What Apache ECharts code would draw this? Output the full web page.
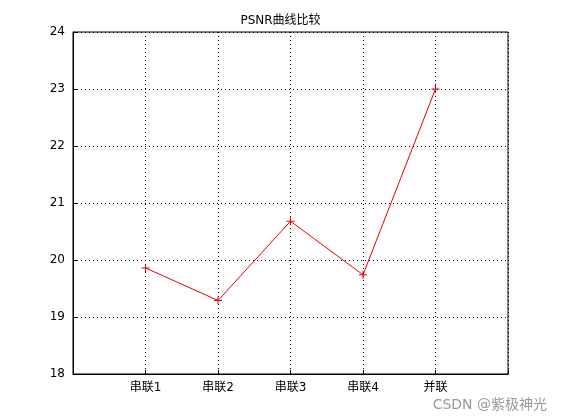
<!DOCTYPE html>
<html>
<head>
<meta charset="utf-8">
<script src="https://cdn.jsdelivr.net/npm/echarts@6/dist/echarts.min.js"></script>
<style>html,body{margin:0;background:#fff}#main{width:561px;height:420px}</style>
</head>
<body>
<div id="main"></div>
<script>
const categories = ['串联1', '串联2', '串联3', '串联4', '并联'];
const psnr = [19.86, 19.29, 20.68, 19.74, 23.0];
const yTicks = [18, 19, 20, 21, 22, 23, 24];

let chart = echarts.init(document.getElementById('main'));
let font = 'DejaVu Sans, Noto Sans CJK SC';
let option = {
  animation: false,
  title: {
    text: 'PSNR曲线比较', left: 'center', top: 10,
    textStyle: { fontSize: 12, fontWeight: 'normal', color: '#000', fontFamily: font }
  },
  grid: { left: 73, right: 53, top: 32, bottom: 46, show: true, borderColor: '#000', borderWidth: 1 },
  xAxis: {
    type: 'value', min: 0, max: 6, interval: 1,
    axisLine: { lineStyle: { color: '#000' } },
    axisTick: { inside: true, length: 4, lineStyle: { color: '#000' } },
    axisLabel: {
      color: '#000', fontSize: 12, fontFamily: font,
      formatter: v => (v >= 1 && v <= 5) ? categories[v - 1] : ''
    },
    splitLine: { show: true, lineStyle: { color: '#000', type: [1, 3] } }
  },
  yAxis: {
    type: 'value', min: yTicks[0], max: yTicks[yTicks.length - 1], interval: 1,
    axisLine: { show: true, lineStyle: { color: '#000' } },
    axisTick: { show: true, inside: true, length: 4, lineStyle: { color: '#000' } },
    axisLabel: { color: '#000', fontSize: 12, fontFamily: font },
    splitLine: { show: true, lineStyle: { color: '#000', type: [1, 3] } }
  },
  series: [{
    type: 'line',
    data: psnr.map((v, i) => [i + 1, v]),
    lineStyle: { color: '#e00000', width: 1 },
    symbol: 'path://M0,5L10,5M5,0L5,10',
    symbolSize: 8,
    itemStyle: { color: 'none', borderColor: '#e00000', borderWidth: 1 }
  }],
  graphic: [{
    type: 'text', right: 14, bottom: 8,
    style: { text: 'CSDN @紫极神光', fontSize: 14, fill: '#999', fontFamily: font }
  }]
};
chart.setOption(option);
</script>
</body>
</html>
